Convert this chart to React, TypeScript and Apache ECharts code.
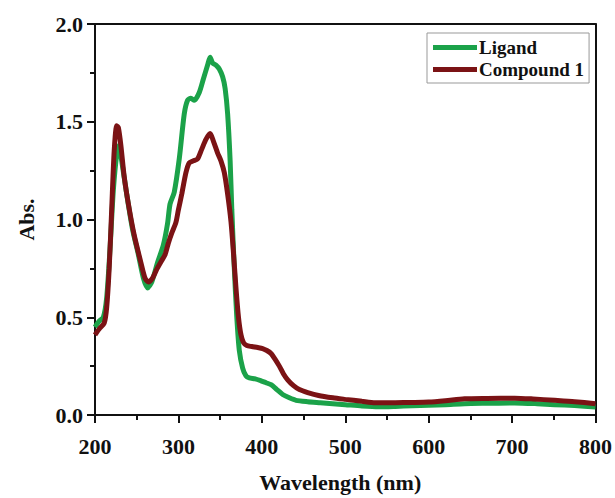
import React, { useEffect, useRef } from "react";
import * as echarts from "echarts";

const ligandNm = [200,205,210,214,218,222,226,229,232,238,245,252,258,263,268,275,282,287,290,295,301,307,311,315,319,325,330,335,338,341,345,349,353,356,359,362,364,367,370,373,377,381,385,392,399,405,411,418,425,433,441,455,470,485,500,520,540,560,580,600,620,643,670,703,730,751,775,800];
const ligandAbs = [0.45,0.48,0.50,0.60,0.85,1.15,1.33,1.38,1.30,1.13,0.95,0.82,0.70,0.65,0.68,0.78,0.87,0.98,1.08,1.14,1.31,1.54,1.61,1.62,1.61,1.65,1.72,1.79,1.83,1.80,1.79,1.77,1.73,1.67,1.54,1.30,1.05,0.75,0.50,0.33,0.24,0.20,0.19,0.185,0.175,0.165,0.155,0.13,0.105,0.088,0.075,0.068,0.063,0.058,0.053,0.046,0.042,0.044,0.047,0.050,0.053,0.058,0.060,0.062,0.058,0.053,0.048,0.041];

const compoundNm = [200,205,211,214,217,220,223,226,228,231,235,240,247,255,260,264,269,274,280,284,288,292,297,300,304,309,313,318,323,328,333,338,342,347,351,355,359,363,366,369,372,375,378,382,388,395,401,406,411,416,421,426,431,438,445,455,468,485,500,520,536,560,580,600,620,643,670,703,725,751,775,800];
const compoundAbs = [0.41,0.44,0.47,0.55,0.75,1.05,1.35,1.48,1.47,1.38,1.22,1.08,0.92,0.78,0.70,0.68,0.70,0.745,0.79,0.82,0.88,0.93,0.985,1.05,1.13,1.24,1.29,1.30,1.31,1.36,1.41,1.44,1.40,1.34,1.30,1.24,1.13,0.99,0.83,0.65,0.50,0.41,0.37,0.355,0.35,0.345,0.34,0.33,0.315,0.285,0.25,0.21,0.18,0.15,0.13,0.115,0.10,0.088,0.08,0.07,0.063,0.063,0.064,0.066,0.073,0.083,0.085,0.086,0.082,0.075,0.068,0.058];

const seriesNames = ["Ligand", "Compound 1"];
const seriesColors = ["#1ba249", "#7b1315"];

const FONT = "'Liberation Serif', 'Times New Roman', serif";

export default function App() {
  const ref = useRef<HTMLDivElement>(null);
  useEffect(() => {
    if (!ref.current) return;
    const chart = echarts.init(ref.current, null, { renderer: "svg" });
    const pairs = (xs: number[], ys: number[]) => xs.map((x, i) => [x, ys[i]]);
    chart.setOption({
      animation: false,
      backgroundColor: "#ffffff",
      grid: { left: 95, right: 16, top: 24, bottom: 71 },
      legend: {
        orient: "vertical",
        left: 427,
        top: 33,
        padding: [5, 5, 4, 6],
        itemGap: 3,
        itemWidth: 44,
        itemHeight: 5,
        icon: "rect",
        borderColor: "#999",
        borderWidth: 1,
        textStyle: { fontFamily: FONT, fontWeight: "bold", fontSize: 19, color: "#111", padding: [0, 0, 0, -3] },
        data: seriesNames,
      },
      xAxis: [
        {
          type: "value",
          min: 200,
          max: 800,
          interval: 100,
          name: "Wavelength (nm)",
          nameLocation: "middle",
          nameGap: 56,
          nameTextStyle: { fontFamily: FONT, fontWeight: "bold", fontSize: 22, color: "#111", padding: [0, 10, 0, 0] },
          axisLine: { show: true, onZero: false, lineStyle: { color: "#111", width: 2 } },
          axisTick: { show: true, length: 8, lineStyle: { color: "#111", width: 2 } },
          minorTick: { show: true, splitNumber: 2, length: 5, lineStyle: { color: "#111", width: 2 } },
          axisLabel: { fontFamily: FONT, fontWeight: "bold", fontSize: 22, color: "#111", margin: 20 },
          splitLine: { show: false },
        },
        {
          type: "value",
          position: "top",
          min: 200,
          max: 800,
          axisLine: { show: true, onZero: false, lineStyle: { color: "#111", width: 2 } },
          axisTick: { show: false },
          axisLabel: { show: false },
          splitLine: { show: false },
        },
      ],
      yAxis: [
        {
          type: "value",
          min: 0,
          max: 2,
          interval: 0.5,
          name: "Abs.",
          nameLocation: "middle",
          nameGap: 58,
          nameTextStyle: { fontFamily: FONT, fontWeight: "bold", fontSize: 22, color: "#111" },
          axisLine: { show: true, onZero: false, lineStyle: { color: "#111", width: 2 } },
          axisTick: { show: true, length: 8, lineStyle: { color: "#111", width: 2 } },
          minorTick: { show: true, splitNumber: 2, length: 5, lineStyle: { color: "#111", width: 2 } },
          axisLabel: {
            fontFamily: FONT,
            fontWeight: "bold",
            fontSize: 22,
            color: "#111",
            margin: 12,
            formatter: (v: number) => v.toFixed(1),
          },
          splitLine: { show: false },
        },
        {
          type: "value",
          position: "right",
          min: 0,
          max: 2,
          axisLine: { show: true, onZero: false, lineStyle: { color: "#111", width: 2 } },
          axisTick: { show: false },
          axisLabel: { show: false },
          splitLine: { show: false },
        },
      ],
      series: [
        {
          name: seriesNames[0],
          type: "line",
          data: pairs(ligandNm, ligandAbs),
          showSymbol: false,
          smooth: 0.25,
          lineStyle: { color: seriesColors[0], width: 5 },
          itemStyle: { color: seriesColors[0] },
          z: 2,
        },
        {
          name: seriesNames[1],
          type: "line",
          data: pairs(compoundNm, compoundAbs),
          showSymbol: false,
          smooth: 0.25,
          lineStyle: { color: seriesColors[1], width: 5 },
          itemStyle: { color: seriesColors[1] },
          z: 3,
        },
      ],
    });
    return () => chart.dispose();
  }, []);
  return <div ref={ref} style={{ position: "absolute", left: 0, top: 0, width: 615, height: 498 }} />;
}
